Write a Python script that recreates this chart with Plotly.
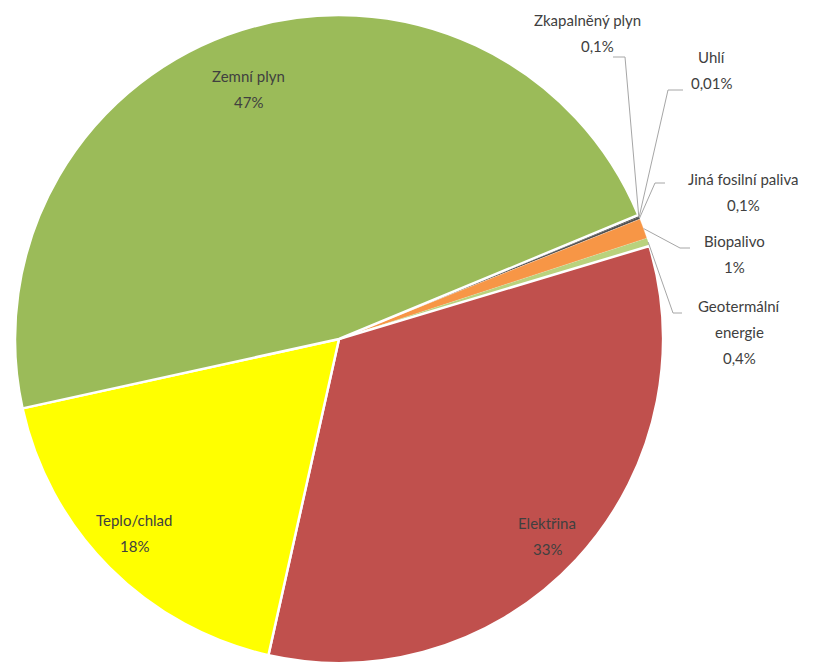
import math
import plotly.graph_objects as go

# ---- data (clockwise order, starting after Zemní plyn) ----
labels = ["Zkapalněný plyn", "Uhlí", "Jiná fosilní paliva", "Biopalivo",
          "Geotermální energie", "Elektřina", "Teplo/chlad", "Zemní plyn"]
values = [0.1, 0.01, 0.1, 1, 0.4, 33, 18, 47]
colors = ["#404040", "#404040", "#4D4D4D", "#F79646", "#B9D27D",
          "#C0504D", "#FFFF00", "#9BBB59"]

label_lines = {
    "Geotermální energie": ["Geotermální", "energie"],
}

W, H = 822, 665
CX, CY, R = 339, 339, 324
ROT = 67.5

def fmt(v):
    return f"{v:g}".replace(".", ",") + "%"

def px2paper(x, y):
    return x / W, 1 - y / H

dx0, dy1 = px2paper(CX - R, CY - R)
dx1, dy0 = px2paper(CX + R, CY + R)

line_w = [0 if v < 0.5 else (0.3 if v < 5 else 2.5) for v in values]

fig = go.Figure(go.Pie(
    labels=labels, values=values, sort=False, direction="clockwise",
    rotation=ROT, textinfo="none", hoverinfo="label+percent",
    marker=dict(colors=colors, line=dict(color="white", width=line_w)),
    domain=dict(x=[dx0, dx1], y=[max(dy0, 0), min(dy1, 1)]),
))

total = sum(values)
mid_angles = {}
acc = 0.0
for lab, v in zip(labels, values):
    a0 = ROT + acc / total * 360
    acc += v
    a1 = ROT + acc / total * 360
    mid_angles[lab] = (a0 + a1) / 2  # compass degrees, clockwise from north

def rim_point(lab, rf=1.0, dang=0.0):
    a = math.radians(mid_angles[lab] + dang)
    return CX + rf * R * math.sin(a), CY - rf * R * math.cos(a)

font = dict(family="Lato, Open Sans, sans-serif", size=15, color="#404040")
LINE = 26
anns = []
shapes = []

# (radial fraction, angular offset) for inside labels of the big slices
inner_pos = {"Zemní plyn": (0.82, -2.5), "Teplo/chlad": (0.87, 1.5), "Elektřina": (0.885, 0.5)}
for lab, (rf, da) in inner_pos.items():
    x, y = rim_point(lab, rf, da)
    v = values[labels.index(lab)]
    for i, t in enumerate([lab, fmt(v)]):
        px, py = px2paper(x, y + (i - 0.5) * LINE)
        anns.append(dict(x=px, y=py, xref="paper", yref="paper", text=t,
                         showarrow=False, font=font, xanchor="center", yanchor="middle"))

outer = {
    "Zkapalněný plyn": ((587, 20), (613, 57), (625, 57)),
    "Uhlí": ((712, 57), (683, 90), (668, 90)),
    "Jiná fosilní paliva": ((743, 179), (665, 183), (655, 183)),
    "Biopalivo": ((734, 241), (690, 248), (680, 248)),
    "Geotermální energie": ((739, 306), (682, 313), (673, 313)),
}
for lab, ((tx, ty), s, e) in outer.items():
    v = values[labels.index(lab)]
    lines = label_lines.get(lab, [lab]) + [fmt(v)]
    for i, t in enumerate(lines):
        xx = tx + (10 if (lab == "Zkapalněný plyn" and i == 1) else 0)
        px, py = px2paper(xx, ty + i * LINE)
        anns.append(dict(x=px, y=py, xref="paper", yref="paper", text=t,
                         showarrow=False, font=font, xanchor="center", yanchor="middle"))
    ex, ey = rim_point(lab, 1.0)
    pts = [px2paper(*s), px2paper(*e), px2paper(ex, ey)]
    path = "M " + " L ".join(f"{p[0]},{p[1]}" for p in pts)
    shapes.append(dict(type="path", path=path, xref="paper", yref="paper",
                       line=dict(color="#A6A6A6", width=1)))

fig.update_layout(
    width=W, height=H, margin=dict(l=0, r=0, t=0, b=0),
    showlegend=False, paper_bgcolor="white", plot_bgcolor="white",
    annotations=anns, shapes=shapes,
)
fig.write_html("out.html",
               config={"displayModeBar": False},
               post_script="document.body.style.margin='0px';"
                           "document.body.style.overflow='hidden';")
